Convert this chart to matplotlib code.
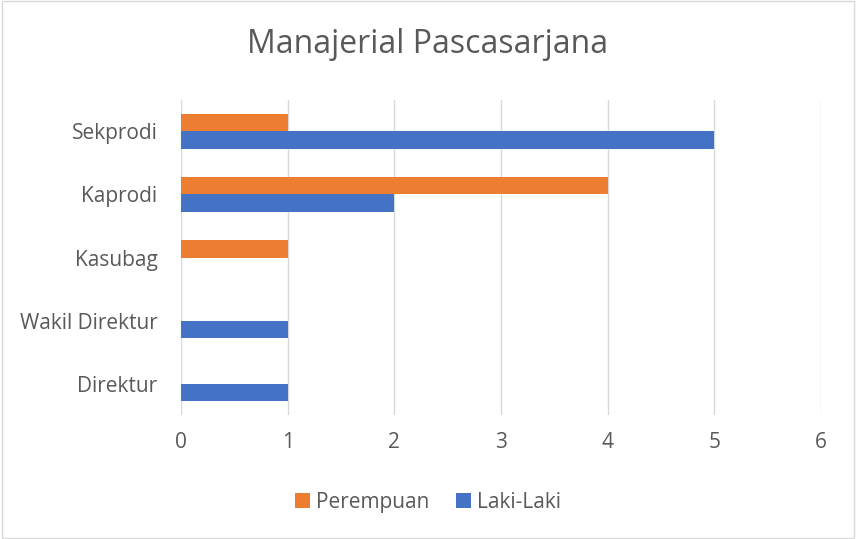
import matplotlib
matplotlib.use("Agg")
import matplotlib.pyplot as plt
import numpy as np

categories = ["Direktur", "Wakil Direktur", "Kasubag", "Kaprodi", "Sekprodi"]
perempuan = [0, 0, 1, 4, 1]
laki_laki = [1, 1, 0, 2, 5]
xticks = [0, 1, 2, 3, 4, 5, 6]

plt.rcParams['font.family'] = ['Open Sans', 'DejaVu Sans']
fig = plt.figure(figsize=(8.56, 5.39), dpi=100)
ax = fig.add_axes([0.2115, 0.230, 0.959 - 0.2115, 0.8145 - 0.230])

y = np.arange(len(categories))
h = 0.27
ax.barh(y + h / 2, perempuan, height=h, color="#ED7D31", label="Perempuan", zorder=3)
ax.barh(y - h / 2, laki_laki, height=h, color="#4472C4", label="Laki-Laki", zorder=3)

ax.set_xlim(0, 6)
ax.set_ylim(-0.5, 4.5)
ax.set_xticks(xticks)
ax.set_yticks(y)
ax.set_yticklabels(categories)
ax.tick_params(axis='both', length=0, labelsize=15, labelcolor="#595959")
ax.tick_params(axis='x', pad=12)
ax.tick_params(axis='y', pad=17)
ax.grid(axis='x', color="#D9D9D9", linewidth=1, zorder=0)
for s in ax.spines.values():
    s.set_visible(False)

fig.text(0.5, 0.917, "Manajerial Pascasarjana", ha='center', va='center', fontsize=23, color="#595959")
fig.legend(loc='center', bbox_to_anchor=(0.5, 0.068), ncol=2, frameon=False, fontsize=15,
           handlelength=0.7, handleheight=0.7, columnspacing=1.3, handletextpad=0.3,
           labelcolor="#595959")

border = plt.Rectangle((0.002, 0.002), 0.996, 0.996, transform=fig.transFigure, fill=False,
                       edgecolor="#D9D9D9", linewidth=1)
fig.patches.append(border)

fig.savefig("out.png", dpi=100)
